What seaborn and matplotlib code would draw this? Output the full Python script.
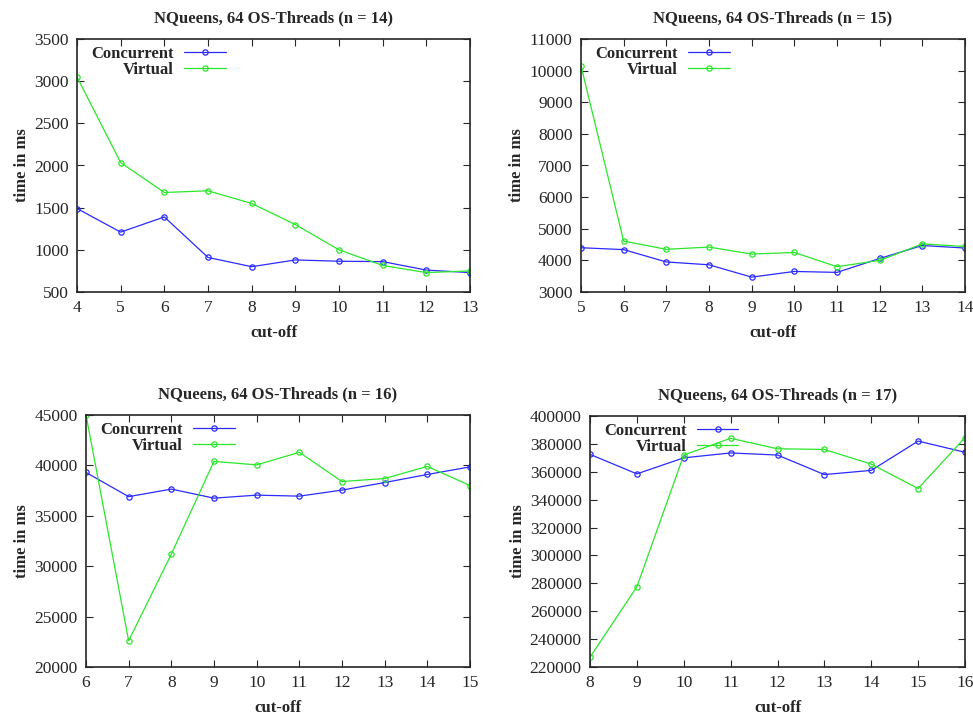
import pandas as pd
import matplotlib
matplotlib.use("Agg")
import matplotlib.pyplot as plt
import seaborn as sns

# Data (time in ms per cut-off)
cut_14 = [4, 5, 6, 7, 8, 9, 10, 11, 12, 13]
conc_14 = [1490, 1210, 1390, 910, 800, 880, 865, 860, 760, 730]
virt_14 = [3050, 2035, 1680, 1700, 1550, 1300, 1000, 815, 730, 750]

cut_15 = [5, 6, 7, 8, 9, 10, 11, 12, 13, 14]
conc_15 = [4400, 4340, 3950, 3860, 3470, 3650, 3620, 4060, 4470, 4390]
virt_15 = [10150, 4610, 4350, 4420, 4200, 4250, 3800, 4000, 4520, 4440]

cut_16 = [6, 7, 8, 9, 10, 11, 12, 13, 14, 15]
conc_16 = [39300, 36900, 37650, 36750, 37050, 36950, 37550, 38300, 39100, 39850]
virt_16 = [45000, 22600, 31200, 40400, 40050, 41300, 38400, 38700, 39900, 38000]

cut_17 = [8, 9, 10, 11, 12, 13, 14, 15, 16]
conc_17 = [372500, 358500, 370000, 373500, 372000, 358000, 361000, 382000, 374000]
virt_17 = [227000, 277500, 372000, 384000, 376500, 376000, 365500, 348000, 384500]

sns.set_style("ticks")
plt.rcParams["font.family"] = ["Liberation Serif", "DejaVu Serif"]

panels = [
    (14, cut_14, conc_14, virt_14, (500, 3500, 500), (77, 39, 470, 292)),
    (15, cut_15, conc_15, virt_15, (3000, 11000, 1000), (581, 39, 965, 292)),
    (16, cut_16, conc_16, virt_16, (20000, 45000, 5000), (86, 415, 470, 667)),
    (17, cut_17, conc_17, virt_17, (220000, 400000, 20000), (590, 416, 965, 667)),
]

W, H = 973, 715
fig = plt.figure(figsize=(W / 100, H / 100), dpi=100)
palette = {"Concurrent": "#2b2bff", "Virtual": "#2be62b"}

for n, cut, conc, virt, (ymin, ymax, ystep), (x0, y0, x1, y1) in panels:
    ax = fig.add_axes([x0 / W, 1 - y1 / H, (x1 - x0) / W, (y1 - y0) / H])
    df = pd.DataFrame({
        "cut-off": cut + cut,
        "time": conc + virt,
        "kind": ["Concurrent"] * len(cut) + ["Virtual"] * len(cut),
    })
    sns.lineplot(data=df, x="cut-off", y="time", hue="kind", palette=palette,
                 marker="o", markersize=3.8, markerfacecolor="none",
                 markeredgewidth=0.9, linewidth=0.9, ax=ax)
    for line in ax.get_lines():
        line.set_markeredgecolor(line.get_color())
        line.set_markerfacecolor("none")
    ax.set_xlim(cut[0], cut[-1])
    ax.set_ylim(ymin, ymax)
    ax.set_xticks(cut)
    ax.set_yticks(range(ymin, ymax + 1, ystep))
    ax.tick_params(direction="in", top=True, right=True, length=5,
                   labelsize=12.5, width=0.8, pad=6)
    for s in ax.spines.values():
        s.set_linewidth(1.2)
    ax.set_title(f"NQueens, 64 OS-Threads (n = {n})", fontsize=12,
                 fontweight="bold", pad=12)
    ax.set_xlabel("cut-off", fontsize=12, fontweight="bold", labelpad=6)
    ax.set_ylabel("time in ms", fontsize=12, fontweight="bold", labelpad=3)
    handles, labels = ax.get_legend_handles_labels()
    leg = ax.legend(handles, labels, loc="upper left", frameon=False,
                    markerfirst=False, handlelength=2.5, handletextpad=0.6,
                    labelspacing=0.0, borderaxespad=0.0,
                    bbox_to_anchor=(0.02, 1.0),
                    prop={"weight": "bold", "size": 12})
    for t in leg.get_texts():
        t.set_ha("right")
    leg._legend_box.align = "right"

fig.savefig("out.png", dpi=100)
